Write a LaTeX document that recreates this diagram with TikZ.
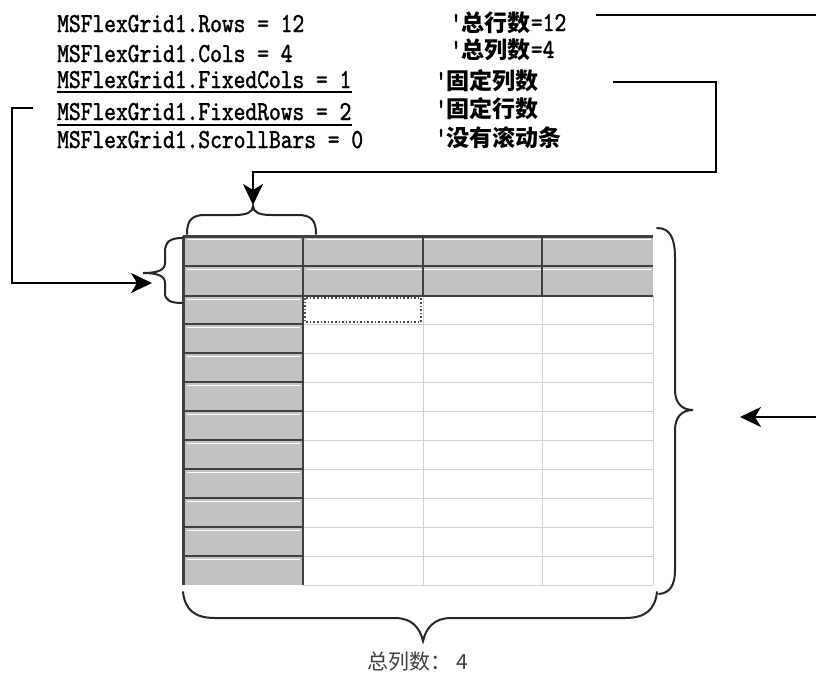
\documentclass[tikz,border=0pt]{standalone}
\usepackage{fontspec}
\usetikzlibrary{arrows.meta,calc}
\newfontfamily\cjkfont{Noto Sans CJK SC}
\newfontfamily\codefont[FakeStretch=0.815,FakeBold=1.4]{lmmono10-regular.otf}
\newcommand\cmtcode{\codefont\fontsize{27.5}{30}\selectfont}
\tikzset{
  codeline/.style={anchor=base west,inner sep=0pt,font=\codefont\fontsize{27.5}{30}\selectfont},
  cmtline/.style={anchor=base west,inner sep=0pt,font=\fontsize{23}{26}\selectfont},
  conn/.style={line width=2.4pt,black},
  arrowed/.style={conn,-{Stealth[length=21pt,width=20pt,inset=6pt]}},
  bracepath/.style={line width=2pt,black!85,line cap=round},
  fixedfill/.style={fill=black!24},
  darkline/.style={line width=2.4pt,black!75},
  lightline/.style={line width=0.9pt,black!18},
  hilite/.style={line width=1pt,white},
}
\begin{document}
\begin{tikzpicture}[x=1pt,y=-1pt]
\fill[white] (0,0) rectangle (816,673);
\useasboundingbox (0,0) rectangle (816,673);
\clip (0,0) rectangle (816,673);

% ---------- code lines ----------
\node[codeline] (c1) at (57,32)  {MSFlexGrid1.Rows = 12};
\node[codeline] (c2) at (57,62)  {MSFlexGrid1.Cols = 4};
\node[codeline] (c3) at (57,88)  {MSFlexGrid1.FixedCols = 1};
\node[codeline] (c4) at (57,120) {MSFlexGrid1.FixedRows = 2};
\node[codeline] (c5) at (57,148) {MSFlexGrid1.ScrollBars = 0};
\draw[line width=1.6pt] ($(c3.base west)+(0,4)$) -- ($(c3.base east)+(0,4)$);
\draw[line width=2pt] ($(c4.base west)+(0,5)$) -- ($(c4.base east)+(0,5)$);

% ---------- comments ----------
\node[cmtline] (m1) at (450,31)  {{\cmtcode '}{\cjkfont\bfseries 总行数}{\cmtcode =12}};
\node[cmtline] (m2) at (450,58)  {{\cmtcode '}{\cjkfont\bfseries 总列数}{\cmtcode =4}};
\node[cmtline] (m3) at (435,89)  {{\cmtcode '}{\cjkfont\bfseries 固定列数}};
\node[cmtline] (m4) at (435,117) {{\cmtcode '}{\cjkfont\bfseries 固定行数}};
\node[cmtline] (m5) at (435,146) {{\cmtcode '}{\cjkfont\bfseries 没有滚动条}};

% ---------- grid ----------
\fill[fixedfill] (183,236) rectangle (653,296);
\fill[fixedfill] (183,296) rectangle (303,585);
% body light lines
\foreach \y in {324,353,382,411,440,469,498,527,556,585}
  \draw[lightline] (303,\y) -- (653,\y);
\foreach \x in {423,542,653}
  \draw[lightline] (\x,296) -- (\x,585);
% highlights in fixed cells
\foreach \y in {236,266,296,324,353,382,411,440,469,498,527,556}
  \draw[hilite] (187,\y+3) -- (300,\y+3);
\foreach \y in {236,266}
  \draw[hilite] (307,\y+3) -- (651,\y+3);
% dark lines of fixed area
\foreach \y in {266,296,324,353,382,411,440,469,498,527,556}
  \draw[darkline] (183,\y) -- (303,\y);
\foreach \y in {266,296}
  \draw[darkline] (303,\y) -- (653,\y);
\foreach \x in {423,542}
  \draw[darkline] (\x,236) -- (\x,296);
\draw[darkline] (303,236) -- (303,585);
\draw[darkline,line width=3pt] (183,236) -- (653,236);
\draw[darkline,line width=3pt] (183,236) -- (183,585);
% selected cell
\draw[black!70,line width=1.6pt,dotted] (305,298) rectangle (421,322);

% ---------- braces ----------
\coordinate (tbtip) at (253,206);
\coordinate (lbtip) at (143,273);
\coordinate (rbtip) at (693,410);
\coordinate (bbtip) at (423,641);
\draw[bracepath] (187,234) .. controls (187,220) and (192,215) .. (205,215) -- (235,215)
  .. controls (247,215) and (253,212) .. (tbtip)
  .. controls (253,212) and (259,215) .. (271,215) -- (298,215)
  .. controls (311,215) and (316,220) .. (316,234);
\draw[bracepath] (182,238) .. controls (170,238) and (165,242) .. (165,252) -- (165,263)
  .. controls (165,270) and (158,273) .. (lbtip)
  .. controls (158,273) and (165,276) .. (165,283) -- (165,293)
  .. controls (165,300) and (170,303) .. (182,303);
\draw[bracepath] (657,228) .. controls (670,228) and (675,238) .. (675,258) -- (675,390)
  .. controls (675,403) and (682,410) .. (rbtip)
  .. controls (682,410) and (675,417) .. (675,430) -- (675,570)
  .. controls (675,585) and (670,593) .. (659,594);
\draw[bracepath] (183,592) .. controls (185,610) and (195,618) .. (215,618) -- (395,618)
  .. controls (412,618) and (420,628) .. (bbtip)
  .. controls (426,628) and (434,618) .. (451,618) -- (625,618)
  .. controls (645,618) and (655,610) .. (657,592);

\node[inner sep=0pt,font=\cjkfont\fontsize{21}{24}\selectfont,text=black!75] (lbl) at (418,662) {总列数： 4};

% ---------- connectors ----------
\coordinate (s1) at (596,15);
\coordinate (s3) at (613,82);
\coordinate (s4) at (33,108);
\coordinate (e1) at (740,417);
\coordinate (e3) at (253,205);
\coordinate (e4) at (152,283);
\draw[arrowed] (s1) -- (830,15) -- (830,417) -- (e1);
\draw[arrowed] (s3) -- (716,82) -- (716,172) -- (253,172) -- (e3);
\draw[arrowed] (s4) -- (12,108) -- (12,283) -- (e4);
\end{tikzpicture}
\end{document}
